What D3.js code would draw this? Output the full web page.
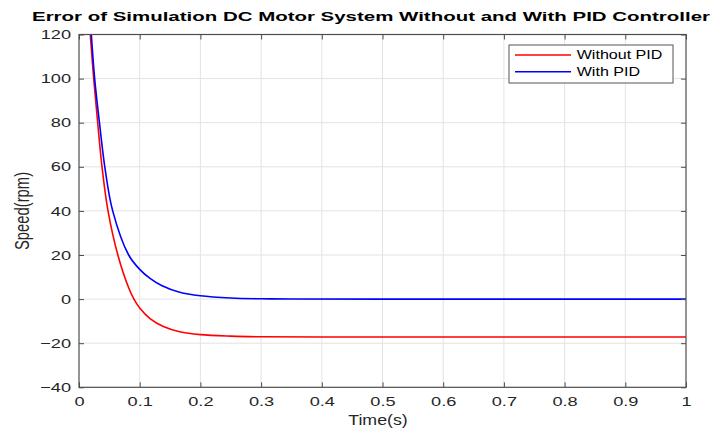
<!DOCTYPE html>
<html>
<head>
<meta charset="UTF-8">
<script src="https://d3js.org/d3.v7.min.js"></script>
<style>
  * { margin: 0; padding: 0; }
  body { background: #fff; font-family: "Liberation Sans", Arial, sans-serif; }
</style>
</head>
<body>
<div id="chart"></div>
<script>
// values
const timeWithout = [0.0186, 0.0242, 0.0308, 0.0379, 0.0478, 0.064, 0.082, 0.0905, 0.100, 0.117, 0.139, 0.166, 0.200, 0.250, 0.300, 0.400, 0.600, 1.000];
const speedWithout = [120, 100, 80, 60, 40, 20, 5, 0, -4, -8.8, -12.4, -14.8, -16.1, -16.8, -17.1, -17.2, -17.2, -17.2];
const timeWith = [0.0203, 0.0258, 0.0337, 0.0425, 0.0555, 0.0818, 0.100, 0.117, 0.136, 0.166, 0.200, 0.250, 0.300, 0.350, 0.500, 1.000];
const speedWith = [120, 100, 80, 60, 40, 20, 13.5, 9.4, 6.2, 3.1, 1.5, 0.5, 0.15, 0.03, 0, 0];
const xTicks = [0, 0.1, 0.2, 0.3, 0.4, 0.5, 0.6, 0.7, 0.8, 0.9, 1];
const yTicks = [-40, -20, 0, 20, 40, 60, 80, 100, 120];
const seriesNames = ["Without PID", "With PID"];
const seriesColors = ["#ff0000", "#0000ff"];

const W = 713, H = 430;
const margin = { top: 34.5, right: 27, bottom: 42.7, left: 79 };
const width = W - margin.left - margin.right,
      height = H - margin.top - margin.bottom;
// the reference picture is stretched sideways, so text is too
const stretch = 1.4;

const svg = d3.select("#chart").append("svg")
    .attr("width", W).attr("height", H);

const g = svg.append("g")
    .attr("transform", `translate(${margin.left},${margin.top})`);

const x = d3.scaleLinear().domain([0, 1]).range([0, width]);
const y = d3.scaleLinear().domain([-40, 120]).range([height, 0]);

// grid
g.append("g").selectAll("line").data(xTicks.slice(1, -1)).join("line")
    .attr("x1", d => x(d)).attr("x2", d => x(d))
    .attr("y1", 0).attr("y2", height)
    .attr("stroke", "#e3e3e3").attr("stroke-width", 1);
g.append("g").selectAll("line").data(yTicks.slice(1, -1)).join("line")
    .attr("y1", d => y(d)).attr("y2", d => y(d))
    .attr("x1", 0).attr("x2", width)
    .attr("stroke", "#e3e3e3").attr("stroke-width", 1);

// lines
svg.append("defs").append("clipPath").attr("id", "clip")
    .append("rect").attr("width", width).attr("height", height);

const line = d3.line().curve(d3.curveCatmullRom.alpha(0.5))
    .x(d => x(d[0])).y(d => y(d[1]));

const series = [
    d3.zip(timeWithout, speedWithout),
    d3.zip(timeWith, speedWith)
];

g.append("g").attr("clip-path", "url(#clip)")
    .selectAll("path").data(series).join("path")
    .attr("fill", "none")
    .attr("stroke", (d, i) => seriesColors[i])
    .attr("stroke-width", 1.6)
    .attr("d", line);

// axes, ticks inward like matlab
const axisColor = "#4d4d4d";
function styleAxis(sel) {
    sel.select(".domain").remove();
    sel.selectAll(".tick line").attr("stroke", axisColor);
    sel.selectAll(".tick text").attr("fill", "#262626")
        .attr("transform", `scale(${stretch},1)`)
        .style("font-size", "13px")
        .style("font-family", "'Liberation Sans', Arial, sans-serif");
}

g.append("g").attr("transform", `translate(0,${height})`)
    .call(d3.axisBottom(x).tickValues(xTicks).tickFormat(d3.format("")).tickSizeInner(-5).tickSizeOuter(0).tickPadding(9.5))
    .call(styleAxis);
g.append("g")
    .call(d3.axisTop(x).tickValues(xTicks).tickFormat("").tickSizeInner(-5).tickSizeOuter(0))
    .call(styleAxis);
g.append("g")
    .call(d3.axisLeft(y).tickValues(yTicks).tickSizeInner(-5).tickSizeOuter(0).tickPadding(5.7))
    .call(styleAxis);
g.append("g").attr("transform", `translate(${width},0)`)
    .call(d3.axisRight(y).tickValues(yTicks).tickFormat("").tickSizeInner(-5).tickSizeOuter(0))
    .call(styleAxis);

g.append("rect")
    .attr("width", width).attr("height", height)
    .attr("fill", "none").attr("stroke", axisColor).attr("stroke-width", 1.2);

// title & labels
svg.append("text")
    .attr("x", 371).attr("y", 21)
    .attr("text-anchor", "middle")
    .attr("textLength", 678).attr("lengthAdjust", "spacingAndGlyphs")
    .style("font-size", "13.5px").style("font-weight", "bold")
    .attr("fill", "#000")
    .text("Error of Simulation DC Motor System Without and With PID Controller");

svg.append("text")
    .attr("transform", `translate(378,425) scale(1.27,1)`)
    .attr("text-anchor", "middle")
    .style("font-size", "14px").attr("fill", "#262626")
    .text("Time(s)");

svg.append("text")
    .attr("transform", `translate(29,211) scale(${stretch},1) rotate(-90)`)
    .attr("text-anchor", "middle")
    .style("font-size", "14.8px").attr("fill", "#262626")
    .text("Speed(rpm)");

// legend
const legend = svg.append("g").attr("transform", "translate(509,45)");
legend.append("rect")
    .attr("width", 164).attr("height", 38)
    .attr("fill", "#fff").attr("stroke", "#555").attr("stroke-width", 1);
seriesNames.forEach((name, i) => {
    const row = legend.append("g").attr("transform", `translate(0,${10 + i * 16.7})`);
    row.append("line")
        .attr("x1", 6).attr("x2", 62)
        .attr("stroke", seriesColors[i]).attr("stroke-width", 1.6);
    row.append("text")
        .attr("transform", "translate(67.7,4.3) scale(1.34,1)")
        .style("font-size", "12px").attr("fill", "#000")
        .text(name);
});
</script>
</body>
</html>
